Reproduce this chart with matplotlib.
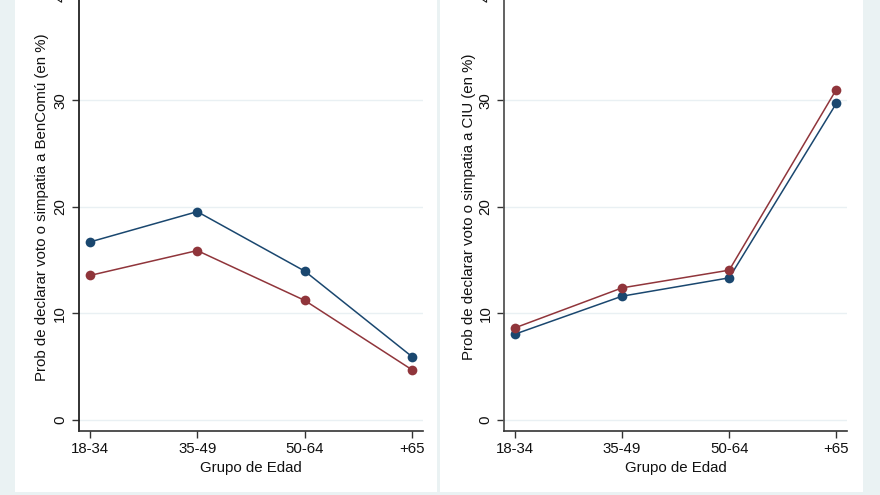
import matplotlib
matplotlib.use("Agg")
import matplotlib.pyplot as plt
from matplotlib.patches import Rectangle

plt.rcParams['font.family'] = ['Liberation Sans', 'DejaVu Sans']

groups = ["18-34", "35-49", "50-64", "+65"]
ben_blue = [16.7, 19.55, 13.97, 5.93]
ben_red = [13.56, 15.9, 11.22, 4.7]
ciu_blue = [8.06, 11.62, 13.34, 29.7]
ciu_red = [8.65, 12.4, 14.06, 31.0]
yticks = [0, 10, 20, 30, 40]
ylabels = ["Prob de declarar voto o simpatia a BenComú (en %)",
           "Prob de declarar voto o simpatia a CIU (en %)"]
xlabel = "Grupo de Edad"

BLUE = "#1a476f"
RED = "#90353b"
BG = "#eaf2f3"
GRID = "#e9f0f3"

W, H = 880, 495
fig = plt.figure(figsize=(W / 100, H / 100), dpi=100, facecolor=BG)

# white panel backgrounds
for x0, x1 in [(15, 437), (440, 863)]:
    fig.patches.append(Rectangle((x0 / W, (H - 492) / H), (x1 - x0) / W, 492 / H + 0.05,
                                 transform=fig.transFigure, facecolor="white",
                                 edgecolor="none", zorder=-10))

def px_axes(x0, x1, ybot, ytop):
    return [x0 / W, (H - ybot) / H, (x1 - x0) / W, (ybot - ytop) / H]

axes_specs = [
    (px_axes(79, 423, 430.7, -17), ben_blue, ben_red, ylabels[0], -0.088, "#222222"),
    (px_axes(504.3, 847, 430.7, -17), ciu_blue, ciu_red, ylabels[1], -0.083, "#555555"),
]

FS = 10.8
xs = list(range(1, len(groups) + 1))
for rect, blue, red, ylab, ylx, axcol in axes_specs:
    ax = fig.add_axes(rect)
    ax.set_zorder(1)
    ax.patch.set_alpha(0)
    ax.set_xlim(0.9, 4.1)
    ax.set_ylim(-1, 41)
    ax.set_yticks(yticks)
    ax.set_yticklabels([str(t) for t in yticks], rotation=90, va="center")
    ax.set_xticks(xs)
    ax.set_xticklabels(groups)
    for s in ["top", "right"]:
        ax.spines[s].set_visible(False)
    ax.spines["left"].set_color(axcol)
    ax.spines["left"].set_linewidth(1.3)
    ax.spines["bottom"].set_color("#333333")
    ax.spines["bottom"].set_linewidth(1.2)
    ax.tick_params(axis="both", direction="out", length=5, width=1.0,
                   color="#333333", labelsize=FS, labelcolor="#111111")
    ax.tick_params(axis="y", pad=3.5)
    ax.tick_params(axis="x", pad=3)
    ax.grid(axis="y", color=GRID, linewidth=1.0)
    ax.set_axisbelow(True)
    ax.plot(xs, blue, color=BLUE, lw=1.1, marker="o", markersize=7,
            markeredgewidth=0, zorder=3, clip_on=False)
    ax.plot(xs, red, color=RED, lw=1.1, marker="o", markersize=7,
            markeredgewidth=0, zorder=3, clip_on=False)
    ax.set_ylabel(ylab, fontsize=FS, color="#111111")
    ax.yaxis.set_label_coords(ylx, 0.5)
    ax.set_xlabel(xlabel, fontsize=FS, color="#111111")
    ax.xaxis.set_label_coords(0.5, -0.068)

fig.savefig("out.png", dpi=100, facecolor=BG)
